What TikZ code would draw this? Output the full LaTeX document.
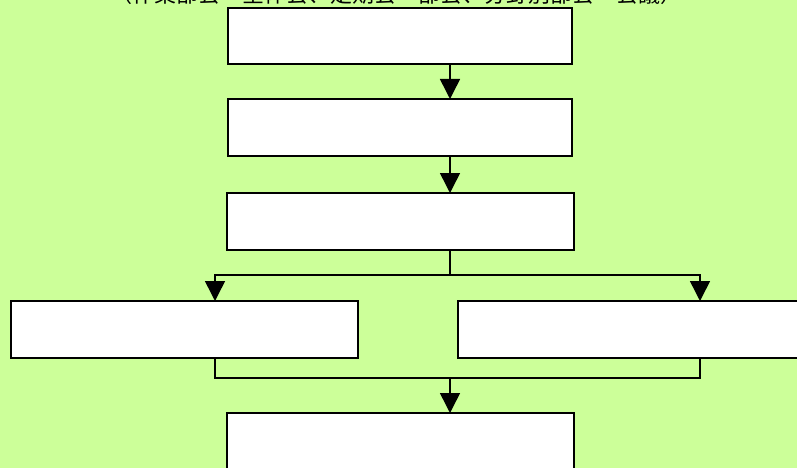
\documentclass[tikz,border=0pt]{standalone}
\usepackage{fontspec}
\newfontfamily\cjk{Noto Sans CJK JP}
\usetikzlibrary{arrows.meta}
\definecolor{bg}{HTML}{CCFF99}
\tikzset{
  box/.style={draw=black, fill=white, line width=1.5pt},
  conn/.style={draw=black, line width=1.5pt},
  arr/.style={conn, -{Triangle[length=20pt,width=20pt]}},
}
\begin{document}
\begin{tikzpicture}[x=1pt,y=-1pt]
\useasboundingbox (0,0) rectangle (797,468);
\fill[bg] (0,0) rectangle (797,468);
\node[anchor=base, inner sep=0pt, font=\cjk\fontsize{22}{24}\selectfont] (title) at (396,3) {（作業部会・全体会、定期会・部会、分野別部会・会議）};
\path[box] (228,8) rectangle (572,64);
\coordinate (b1) at (450,64);
\path[box] (228,99) rectangle (572,156);
\coordinate (b2t) at (450,99);
\coordinate (b2) at (450,156);
\path[box] (227,193) rectangle (574,250);
\coordinate (b3t) at (450,193);
\coordinate (b3) at (450,250);
\path[box] (11,301) rectangle (358,358);
\path[box] (458,301) rectangle (810,358);
\path[box] (227,413) rectangle (574,480);
\coordinate (b6t) at (450,413);
\coordinate (s) at (450,275);
\coordinate (l4t) at (215,301);
\coordinate (l5t) at (700,301);
\coordinate (l4b) at (215,358);
\coordinate (l5b) at (700,358);
\coordinate (j) at (450,378);
\draw[arr] (b1) -- (b2t);
\draw[arr] (b2) -- (b3t);
\draw[conn] (b3) -- (s);
\draw[arr] (s) -| (l4t);
\draw[arr] (s) -| (l5t);
\draw[conn] (l4b) |- (j) -| (l5b);
\draw[arr] (j) -- (b6t);
\end{tikzpicture}
\end{document}
